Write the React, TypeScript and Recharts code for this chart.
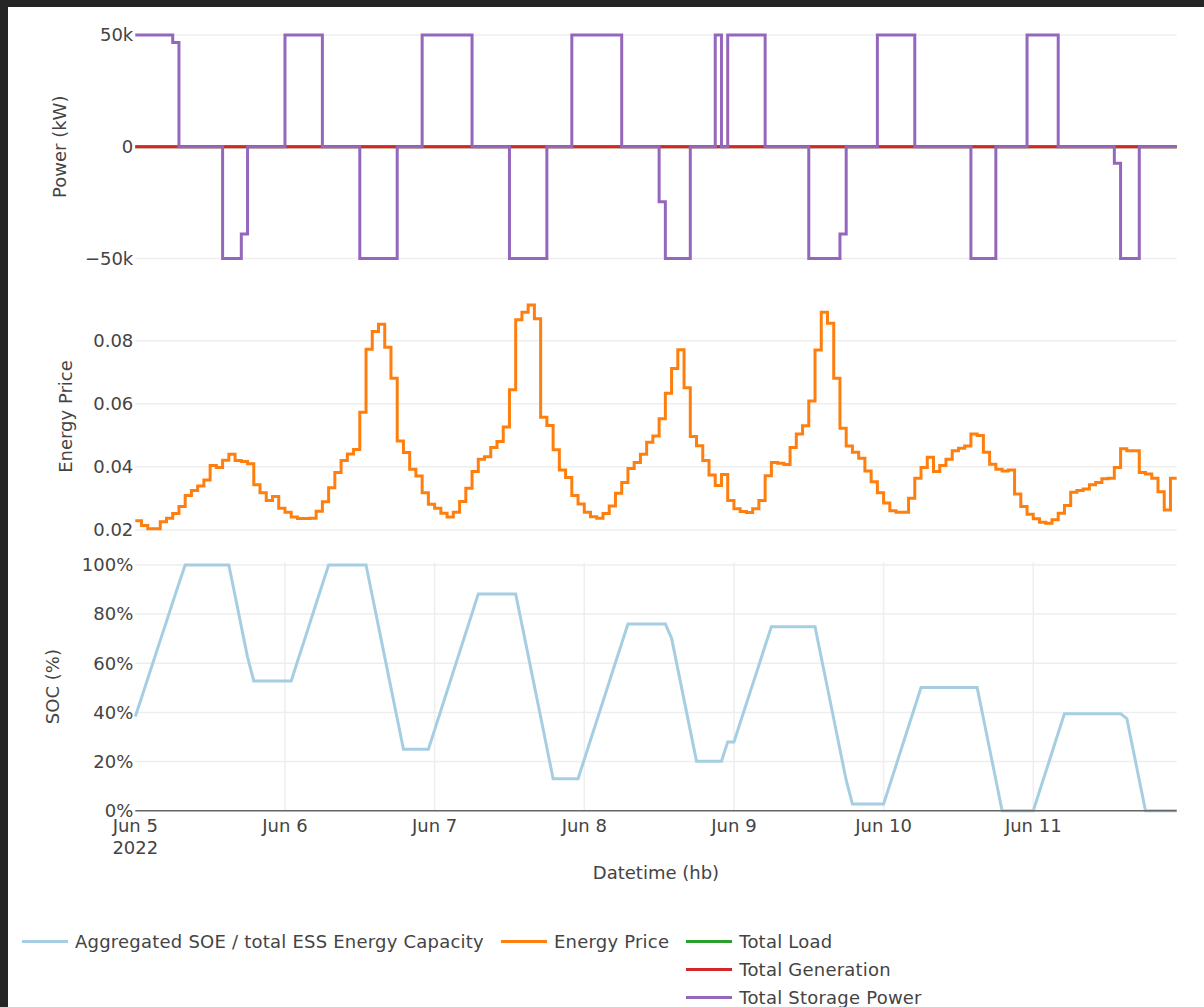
import React from "react";
import { LineChart, Line, XAxis, YAxis, CartesianGrid } from "recharts";

// x axis: one point per hour, Jun 5 00:00 -> Jun 11 23:00
const dayTicks = [0, 24, 48, 72, 96, 120, 144];
const dayLabels = ["Jun 5", "Jun 6", "Jun 7", "Jun 8", "Jun 9", "Jun 10", "Jun 11"];
const yearLabel = "2022";
// vertical grid only at the inner day ticks (nothing on the left edge)
const gridTicks = dayTicks.slice(1);

const powerTicks = [-50000, 0, 50000];
const priceTicks = [0.02, 0.04, 0.06, 0.08];
const socTicks = [0, 20, 40, 60, 80, 100];

// one row per day (24 hourly values)
const energyPrice = [
  0.0229, 0.0214, 0.0204, 0.0204, 0.0226, 0.0237, 0.0252, 0.0274, 0.0309, 0.0325, 0.0339, 0.0358, 0.0404, 0.0398, 0.0421, 0.0440, 0.0420, 0.0417, 0.0410, 0.0343, 0.0318, 0.0293, 0.0306, 0.0269,
  0.0256, 0.0241, 0.0236, 0.0236, 0.0237, 0.0259, 0.0289, 0.0334, 0.0382, 0.0420, 0.0441, 0.0455, 0.0573, 0.0773, 0.0829, 0.0852, 0.0779, 0.0681, 0.0482, 0.0445, 0.0392, 0.0371, 0.0318, 0.0281,
  0.0269, 0.0253, 0.0241, 0.0256, 0.0290, 0.0332, 0.0385, 0.0424, 0.0432, 0.0461, 0.0480, 0.0526, 0.0644, 0.0866, 0.0890, 0.0913, 0.0869, 0.0557, 0.0531, 0.0454, 0.0390, 0.0366, 0.0309, 0.0282,
  0.0256, 0.0242, 0.0237, 0.0252, 0.0276, 0.0316, 0.0350, 0.0395, 0.0414, 0.0440, 0.0478, 0.0498, 0.0552, 0.0633, 0.0712, 0.0771, 0.0651, 0.0496, 0.0467, 0.0420, 0.0374, 0.0341, 0.0376, 0.0293,
  0.0267, 0.0258, 0.0255, 0.0267, 0.0293, 0.0372, 0.0414, 0.0411, 0.0407, 0.0461, 0.0504, 0.0530, 0.0609, 0.0770, 0.0890, 0.0855, 0.0681, 0.0522, 0.0466, 0.0446, 0.0427, 0.0387, 0.0353, 0.0318,
  0.0285, 0.0261, 0.0256, 0.0256, 0.0300, 0.0364, 0.0398, 0.0430, 0.0385, 0.0404, 0.0424, 0.0451, 0.0459, 0.0466, 0.0504, 0.0499, 0.0446, 0.0408, 0.0392, 0.0387, 0.0390, 0.0314, 0.0274, 0.0250,
  0.0235, 0.0224, 0.0221, 0.0232, 0.0253, 0.0277, 0.0319, 0.0325, 0.0330, 0.0343, 0.0350, 0.0362, 0.0364, 0.0398, 0.0457, 0.0451, 0.0451, 0.0382, 0.0377, 0.0364, 0.0321, 0.0263, 0.0364, 0.0364,
];

const storagePower = [
  50000, 50000, 50000, 50000, 50000, 50000, 46700, 0, 0, 0, 0, 0, 0, 0, -50000, -50000, -50000, -39000, 0, 0, 0, 0, 0, 0,
  50000, 50000, 50000, 50000, 50000, 50000, 0, 0, 0, 0, 0, 0, -50000, -50000, -50000, -50000, -50000, -50000, 0, 0, 0, 0, 50000, 50000,
  50000, 50000, 50000, 50000, 50000, 50000, 0, 0, 0, 0, 0, 0, -50000, -50000, -50000, -50000, -50000, -50000, 0, 0, 0, 0, 50000, 50000,
  50000, 50000, 50000, 50000, 50000, 50000, 0, 0, 0, 0, 0, 0, -24600, -50000, -50000, -50000, -50000, 0, 0, 0, 0, 50000, 0, 50000,
  50000, 50000, 50000, 50000, 50000, 0, 0, 0, 0, 0, 0, 0, -50000, -50000, -50000, -50000, -50000, -39000, 0, 0, 0, 0, 0, 50000,
  50000, 50000, 50000, 50000, 50000, 0, 0, 0, 0, 0, 0, 0, 0, 0, -50000, -50000, -50000, -50000, 0, 0, 0, 0, 0, 50000,
  50000, 50000, 50000, 50000, 0, 0, 0, 0, 0, 0, 0, 0, 0, -7400, -50000, -50000, -50000, 0, 0, 0, 0, 0, 0, 0,
];

const totalLoad = [
  0, 0, 0, 0, 0, 0, 0, 0, 0, 0, 0, 0, 0, 0, 0, 0, 0, 0, 0, 0, 0, 0, 0, 0,
  0, 0, 0, 0, 0, 0, 0, 0, 0, 0, 0, 0, 0, 0, 0, 0, 0, 0, 0, 0, 0, 0, 0, 0,
  0, 0, 0, 0, 0, 0, 0, 0, 0, 0, 0, 0, 0, 0, 0, 0, 0, 0, 0, 0, 0, 0, 0, 0,
  0, 0, 0, 0, 0, 0, 0, 0, 0, 0, 0, 0, 0, 0, 0, 0, 0, 0, 0, 0, 0, 0, 0, 0,
  0, 0, 0, 0, 0, 0, 0, 0, 0, 0, 0, 0, 0, 0, 0, 0, 0, 0, 0, 0, 0, 0, 0, 0,
  0, 0, 0, 0, 0, 0, 0, 0, 0, 0, 0, 0, 0, 0, 0, 0, 0, 0, 0, 0, 0, 0, 0, 0,
  0, 0, 0, 0, 0, 0, 0, 0, 0, 0, 0, 0, 0, 0, 0, 0, 0, 0, 0, 0, 0, 0, 0, 0,
];

const totalGeneration = [
  0, 0, 0, 0, 0, 0, 0, 0, 0, 0, 0, 0, 0, 0, 0, 0, 0, 0, 0, 0, 0, 0, 0, 0,
  0, 0, 0, 0, 0, 0, 0, 0, 0, 0, 0, 0, 0, 0, 0, 0, 0, 0, 0, 0, 0, 0, 0, 0,
  0, 0, 0, 0, 0, 0, 0, 0, 0, 0, 0, 0, 0, 0, 0, 0, 0, 0, 0, 0, 0, 0, 0, 0,
  0, 0, 0, 0, 0, 0, 0, 0, 0, 0, 0, 0, 0, 0, 0, 0, 0, 0, 0, 0, 0, 0, 0, 0,
  0, 0, 0, 0, 0, 0, 0, 0, 0, 0, 0, 0, 0, 0, 0, 0, 0, 0, 0, 0, 0, 0, 0, 0,
  0, 0, 0, 0, 0, 0, 0, 0, 0, 0, 0, 0, 0, 0, 0, 0, 0, 0, 0, 0, 0, 0, 0, 0,
  0, 0, 0, 0, 0, 0, 0, 0, 0, 0, 0, 0, 0, 0, 0, 0, 0, 0, 0, 0, 0, 0, 0, 0,
];

// aggregated SOE / capacity, in percent
const socPercent = [
  38.3, 46.0, 53.8, 61.5, 69.3, 77.0, 84.8, 92.5, 100, 100, 100, 100, 100, 100, 100, 100, 87.5, 75.0, 62.5, 52.8, 52.8, 52.8, 52.8, 52.8,
  52.8, 52.8, 60.7, 68.5, 76.4, 84.3, 92.1, 100, 100, 100, 100, 100, 100, 100, 87.5, 75.0, 62.5, 50.0, 37.5, 25.0, 25.0, 25.0, 25.0, 25.0,
  32.9, 40.8, 48.7, 56.6, 64.5, 72.4, 80.3, 88.2, 88.2, 88.2, 88.2, 88.2, 88.2, 88.2, 75.7, 63.2, 50.7, 38.2, 25.6, 13.0, 13.0, 13.0, 13.0, 13.0,
  20.9, 28.8, 36.6, 44.5, 52.4, 60.3, 68.1, 76.0, 76.0, 76.0, 76.0, 76.0, 76.0, 76.0, 70.2, 57.6, 45.1, 32.6, 20.1, 20.1, 20.1, 20.1, 20.1, 28.0,
  28.0, 35.8, 43.6, 51.4, 59.2, 67.1, 74.9, 74.9, 74.9, 74.9, 74.9, 74.9, 74.9, 74.9, 62.4, 49.9, 37.4, 24.9, 12.4, 2.7, 2.7, 2.7, 2.7, 2.7,
  2.7, 10.6, 18.5, 26.4, 34.3, 42.2, 50.1, 50.1, 50.1, 50.1, 50.1, 50.1, 50.1, 50.1, 50.1, 50.1, 37.6, 25.1, 12.6, 0, 0, 0, 0, 0,
  0, 7.9, 15.8, 23.7, 31.6, 39.5, 39.5, 39.5, 39.5, 39.5, 39.5, 39.5, 39.5, 39.5, 39.5, 37.5, 25.0, 12.5, 0, 0, 0, 0, 0, 0,
];

const legendNames = [
  "Aggregated SOE / total ESS Energy Capacity",
  "Energy Price",
  "Total Load",
  "Total Generation",
  "Total Storage Power",
];

const COLORS = {
  soc: "#a6cee3",
  price: "#ff7f0e",
  load: "#2ca02c",
  gen: "#d62728",
  storage: "#9467bd",
};
const legendColors = [COLORS.soc, COLORS.price, COLORS.load, COLORS.gen, COLORS.storage];

const TEXT = "#444";
const GRID = "#eeeeee";
const FONT = 18;

const rows = energyPrice.map((price, h) => ({
  h,
  price,
  load: totalLoad[h],
  gen: totalGeneration[h],
  storage: storagePower[h],
  soc: socPercent[h],
}));

const WIDTH = 1204;
const AXIS_W = 135.3;
const RIGHT = 27.3;

const fmtPower = (v: number) =>
  v === 0 ? "0" : `${v < 0 ? "\u2212" : ""}${Math.abs(v) / 1000}k`;

function YTitle(props: any) {
  const { viewBox, left, text } = props;
  const cy = viewBox ? viewBox.y + viewBox.height / 2 : 0;
  return (
    <text
      x={left}
      y={cy}
      transform={`rotate(-90 ${left} ${cy})`}
      textAnchor="middle"
      dominantBaseline="central"
      fill={TEXT}
      fontSize={FONT}
    >
      {text}
    </text>
  );
}

function XTitle(props: any) {
  const { viewBox } = props;
  if (!viewBox) return null;
  return (
    <text x={viewBox.x + viewBox.width / 2} y={viewBox.y + 68} textAnchor="middle" fill={TEXT} fontSize={FONT}>
      Datetime (hb)
    </text>
  );
}

function DayTick(props: any) {
  const { x, y, payload } = props;
  const i = dayTicks.indexOf(payload.value);
  return (
    <g>
      <text x={x} y={y + 21} textAnchor="middle" fill={TEXT} fontSize={FONT}>
        {dayLabels[i]}
      </text>
      {i === 0 && (
        <text x={x} y={y + 43.3} textAnchor="middle" fill={TEXT} fontSize={FONT}>
          {yearLabel}
        </text>
      )}
    </g>
  );
}

const yTick = { fill: TEXT, fontSize: FONT };

export default function App() {
  return (
    <div
      style={{
        position: "fixed",
        left: 0,
        top: 0,
        width: WIDTH,
        height: 1007,
        background: "#252526",
        overflow: "hidden",
        fontFamily: "'DejaVu Sans', Verdana, sans-serif",
      }}
    >
      <div style={{ position: "absolute", left: 8, top: 7, right: 0, bottom: 0, background: "#fff" }} />

      {/* power */}
      <div style={{ position: "absolute", left: 0, top: 0 }}>
        <LineChart width={WIDTH} height={280} data={rows} margin={{ top: 22.5, right: RIGHT, bottom: 9, left: 0 }}>
          <CartesianGrid stroke={GRID} strokeWidth={1.5} syncWithTicks />
          <XAxis type="number" dataKey="h" domain={[0, 167]} ticks={gridTicks} interval={0} height={0} tick={false} axisLine={false} tickLine={false} />
          <YAxis
            width={AXIS_W}
            domain={[-55600, 55600]}
            ticks={powerTicks}
            interval={0}
            tickFormatter={fmtPower}
            axisLine={false}
            tickLine={false}
            tickSize={0}
            tickMargin={2}
            tick={yTick}
            label={<YTitle left={59} text="Power (kW)" />}
          />
          <Line dataKey="load" name="Total Load" type="stepAfter" stroke={COLORS.load} strokeWidth={3} dot={false} isAnimationActive={false} />
          <Line dataKey="gen" name="Total Generation" type="stepAfter" stroke={COLORS.gen} strokeWidth={3} dot={false} isAnimationActive={false} />
          <Line dataKey="storage" name="Total Storage Power" type="stepAfter" stroke={COLORS.storage} strokeWidth={3} dot={false} isAnimationActive={false} />
        </LineChart>
      </div>

      {/* price */}
      <div style={{ position: "absolute", left: 0, top: 280 }}>
        <LineChart width={WIDTH} height={270} data={rows} margin={{ top: 13, right: RIGHT, bottom: 10, left: 0 }}>
          <CartesianGrid stroke={GRID} strokeWidth={1.5} syncWithTicks />
          <XAxis type="number" dataKey="h" domain={[0, 167]} ticks={gridTicks} interval={0} height={0} tick={false} axisLine={false} tickLine={false} />
          <YAxis
            width={AXIS_W}
            domain={[0.0168, 0.0951]}
            ticks={priceTicks}
            interval={0}
            tickFormatter={(v: number) => v.toFixed(2)}
            axisLine={false}
            tickLine={false}
            tickSize={0}
            tickMargin={2}
            tick={yTick}
            label={<YTitle left={65.5} text="Energy Price" />}
          />
          <Line dataKey="price" name="Energy Price" type="stepAfter" stroke={COLORS.price} strokeWidth={3} dot={false} isAnimationActive={false} />
        </LineChart>
      </div>

      {/* SOC */}
      <div style={{ position: "absolute", left: 0, top: 550 }}>
        <LineChart width={WIDTH} height={340} data={rows} margin={{ top: 12.5, right: RIGHT, bottom: 4.3, left: 0 }}>
          <CartesianGrid stroke={GRID} strokeWidth={1.5} syncWithTicks xAxisId="grid" />
          <XAxis xAxisId="grid" type="number" dataKey="h" domain={[0, 167]} ticks={gridTicks} interval={0} hide />
          <XAxis
            type="number"
            dataKey="h"
            domain={[0, 167]}
            ticks={dayTicks}
            interval={0}
            height={75}
            tickSize={0}
            tickMargin={0}
            tickLine={false}
            axisLine={{ stroke: "#666", strokeWidth: 1.5 }}
            tick={<DayTick />}
            label={<XTitle />}
          />
          <YAxis
            width={AXIS_W}
            domain={[0, 101]}
            ticks={socTicks}
            interval={0}
            tickFormatter={(v: number) => `${v}%`}
            axisLine={false}
            tickLine={false}
            tickSize={0}
            tickMargin={2}
            tick={yTick}
            label={<YTitle left={53} text="SOC (%)" />}
          />
          <Line dataKey="soc" name="Aggregated SOE / total ESS Energy Capacity" type="linear" stroke={COLORS.soc} strokeWidth={3} dot={false} isAnimationActive={false} />
        </LineChart>
      </div>

      {/* legend */}
      <div
        style={{
          position: "absolute",
          left: 22,
          top: 927,
          display: "grid",
          gridTemplateColumns: "auto auto auto",
          columnGap: 17,
          justifyContent: "start",
        }}
      >
        {legendNames.map((name, i) => (
          <div
            key={name}
            style={{
              display: "flex",
              alignItems: "center",
              height: 28.3,
              gridColumn: i >= 2 ? 3 : i + 1,
              gridRow: i >= 2 ? i - 1 : 1,
            }}
          >
            <span style={{ display: "inline-block", width: 46, height: 3, background: legendColors[i], marginRight: 7 }} />
            <span style={{ fontSize: FONT, color: TEXT, whiteSpace: "nowrap", letterSpacing: 0.22 }}>{name}</span>
          </div>
        ))}
      </div>
    </div>
  );
}
